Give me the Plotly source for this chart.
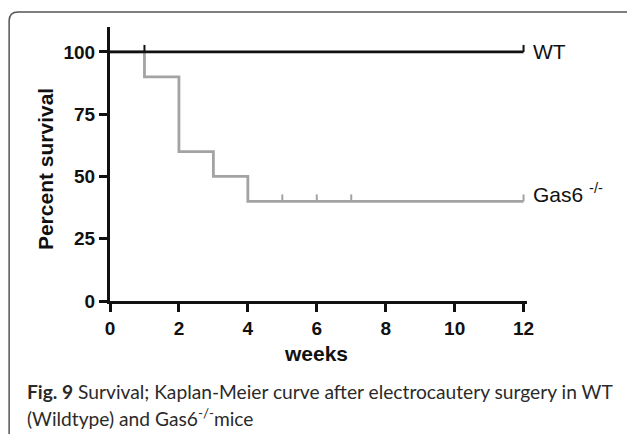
import plotly.graph_objects as go

# Kaplan-Meier survival data (percent surviving at each step start)
weeks_wt = [0, 12]
surv_wt = [100, 100]
censor_wt = [1, 12]

weeks_gas6 = [0, 1, 2, 3, 4, 12]
surv_gas6 = [100, 90, 60, 50, 40, 40]
censor_gas6 = [5, 6, 7, 12]

x_ticks = [0, 2, 4, 6, 8, 10, 12]
y_ticks = [0, 25, 50, 75, 100]

W, H = 627, 434
L, R, T, B = 110, 99.5, 27, 133
PW, PH = W - L - R, H - T - B

TICK_H = 2.8  # height of censor marks, in percent units

def step_value(xs, ys, t):
    v = ys[0]
    for xi, yi in zip(xs, ys):
        if xi <= t:
            v = yi
    return v

def censor_segments(times, xs, ys):
    cx, cy = [], []
    for t in times:
        s = step_value(xs, ys, t)
        cx += [t, t, None]
        cy += [s, s + TICK_H, None]
    return cx, cy

def px(x):
    return (x - L) / PW

def py(y):
    return (H - B - y) / PH

GRAY = "#a3a3a3"
BLACK = "#111111"

fig = go.Figure()

fig.add_trace(go.Scatter(x=weeks_gas6, y=surv_gas6, mode="lines", line_shape="hv",
                         line=dict(color=GRAY, width=2.8), hoverinfo="skip"))
gx, gy = censor_segments(censor_gas6, weeks_gas6, surv_gas6)
fig.add_trace(go.Scatter(x=gx, y=gy, mode="lines", line=dict(color=GRAY, width=2), hoverinfo="skip"))

fig.add_trace(go.Scatter(x=weeks_wt, y=surv_wt, mode="lines", line_shape="hv",
                         line=dict(color=BLACK, width=2.6), hoverinfo="skip"))
wx, wy = censor_segments(censor_wt, weeks_wt, surv_wt)
fig.add_trace(go.Scatter(x=wx, y=wy, mode="lines", line=dict(color=BLACK, width=2), hoverinfo="skip"))

axis_font = dict(family="Liberation Sans, Arial", size=19, color=BLACK)

fig.update_layout(
    width=W, height=H,
    margin=dict(l=L, r=R, t=T, b=B),
    paper_bgcolor="white", plot_bgcolor="white",
    showlegend=False,
    xaxis=dict(range=[0, 12.1], tickvals=x_ticks, ticktext=[f"<b>{v}</b>" for v in x_ticks],
               showgrid=False, zeroline=False, showline=True, linecolor=BLACK, linewidth=3,
               ticks="outside", ticklen=8, tickwidth=2.5, tickcolor=BLACK, tickfont=axis_font),
    yaxis=dict(range=[0, 110], tickvals=y_ticks, ticktext=[f"<b>{v}</b>" for v in y_ticks],
               showgrid=False, zeroline=False, showline=True, linecolor=BLACK, linewidth=3,
               ticks="outside", ticklen=8, tickwidth=2.5, tickcolor=BLACK, tickfont=axis_font),
)

# Axis titles
fig.add_annotation(text="<b>Percent survival</b>", xref="paper", yref="paper",
                   x=px(46), y=py(169), textangle=-90, showarrow=False,
                   xanchor="center", yanchor="middle",
                   font=dict(family="Liberation Sans, Arial", size=21, color=BLACK))
fig.add_annotation(text="<b>weeks</b>", xref="paper", yref="paper",
                   x=px(316), y=py(353), showarrow=False,
                   xanchor="center", yanchor="middle",
                   font=dict(family="Liberation Sans, Arial", size=21, color=BLACK))

# Series labels at the curve ends
fig.add_annotation(text="WT", x=12, y=surv_wt[-1], xref="x", yref="y", xshift=7,
                   showarrow=False, xanchor="left", yanchor="middle",
                   font=dict(family="Liberation Sans, Arial", size=21, color=BLACK))
fig.add_annotation(text="Gas6 <sup>-/-</sup>", x=12, y=surv_gas6[-1], xref="x", yref="y",
                   xshift=7, yshift=8, showarrow=False, xanchor="left", yanchor="middle",
                   font=dict(family="Liberation Sans, Arial", size=21, color=BLACK))

# Figure caption
cap_font = dict(family="Lato", size=19.2, color="#2a2a2a")
fig.add_annotation(text="<b>Fig. 9</b> Survival; Kaplan-Meier curve after electrocautery surgery in WT",
                   xref="paper", yref="paper", x=px(25), y=py(391), showarrow=False,
                   xanchor="left", yanchor="middle", font=cap_font)
fig.add_annotation(text="(Wildtype) and Gas6<sup>-/-</sup>mice",
                   xref="paper", yref="paper", x=px(25), y=py(417), showarrow=False,
                   xanchor="left", yanchor="middle", font=cap_font)

# Rounded frame around the figure panel
r = 9
left, top, right, bottom = 9, 12, 645, 450
path = (f"M {px(left)},{py(bottom)} L {px(left)},{py(top + r)} "
        f"Q {px(left)},{py(top)} {px(left + r)},{py(top)} L {px(right)},{py(top)}")
fig.add_shape(type="path", path=path, xref="paper", yref="paper",
              line=dict(color="#555555", width=1.5))

fig.write_html("out.html")
